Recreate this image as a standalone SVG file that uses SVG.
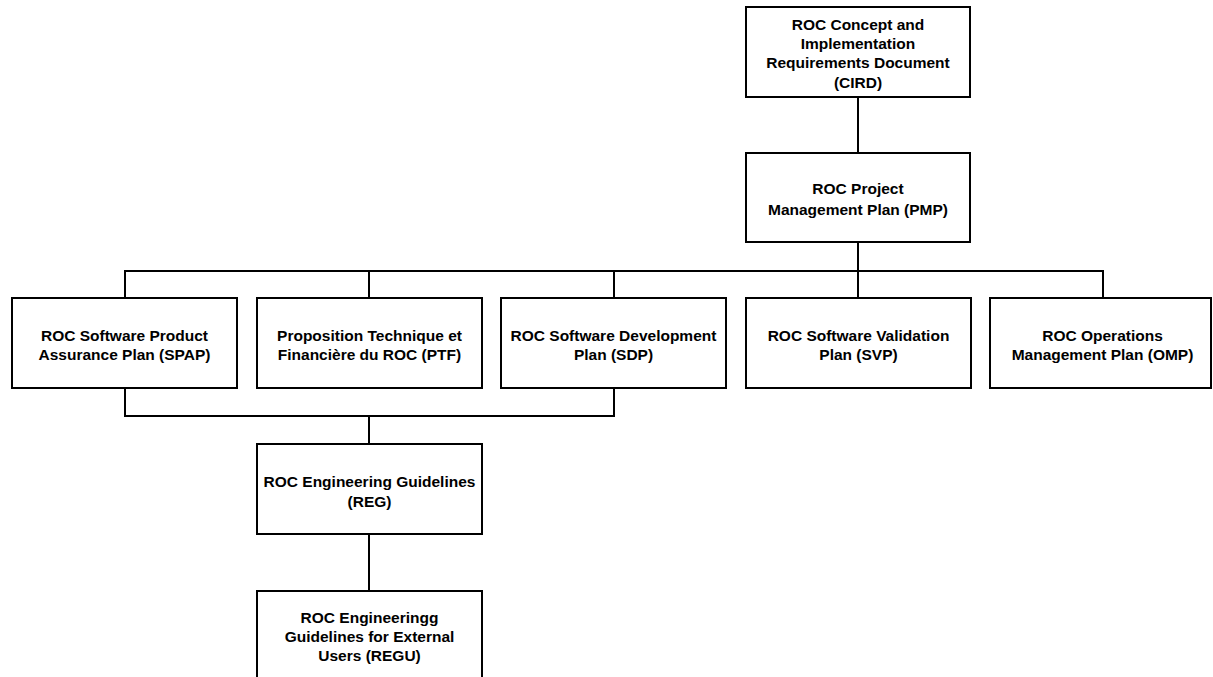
<svg xmlns="http://www.w3.org/2000/svg" width="1213" height="677" viewBox="0 0 1213 677">
  <style>
    .box { fill: #ffffff; stroke: #000000; stroke-width: 2; }
    .wire { fill: none; stroke: #000000; stroke-width: 2; }
    .lbl { font-family: "Liberation Sans", Arial, Helvetica, sans-serif; font-weight: bold; font-size: 15.5px; fill: #000000; text-anchor: middle; }
  </style>
  <rect x="0" y="0" width="1213" height="677" fill="#ffffff"/>

  <!-- connectors -->
  <g id="connectors">
    <line class="wire" x1="858" y1="97" x2="858" y2="153"/>
    <line class="wire" x1="858" y1="242" x2="858" y2="271"/>
    <polyline class="wire" points="125,298 125,271 1103,271 1103,298"/>
    <line class="wire" x1="369" y1="271" x2="369" y2="298"/>
    <line class="wire" x1="614" y1="271" x2="614" y2="298"/>
    <line class="wire" x1="858" y1="271" x2="858" y2="298"/>
    <polyline class="wire" points="125,388 125,416 614,416 614,388"/>
    <line class="wire" x1="369" y1="416" x2="369" y2="444"/>
    <line class="wire" x1="369" y1="534" x2="369" y2="591"/>
  </g>

  <g id="cird">
    <rect class="box" x="746" y="7" width="224" height="90"/>
    <text class="lbl" x="858" y="29.5">ROC Concept and</text>
    <text class="lbl" x="858" y="49">Implementation</text>
    <text class="lbl" x="858" y="68.2">Requirements Document</text>
    <text class="lbl" x="858" y="87.5">(CIRD)</text>
  </g>

  <g id="pmp">
    <rect class="box" x="746" y="153" width="224" height="89"/>
    <text class="lbl" x="858" y="194">ROC Project</text>
    <text class="lbl" x="858" y="214.5">Management Plan (PMP)</text>
  </g>

  <g id="spap">
    <rect class="box" x="12" y="298" width="225" height="90"/>
    <text class="lbl" x="124.5" y="340.5">ROC Software Product</text>
    <text class="lbl" x="124.5" y="359.8">Assurance Plan (SPAP)</text>
  </g>

  <g id="ptf">
    <rect class="box" x="257" y="298" width="225" height="90"/>
    <text class="lbl" x="369.5" y="340.5">Proposition Technique et</text>
    <text class="lbl" x="369.5" y="359.8">Financière du ROC (PTF)</text>
  </g>

  <g id="sdp">
    <rect class="box" x="501" y="298" width="225" height="90"/>
    <text class="lbl" x="613.5" y="340.5">ROC Software Development</text>
    <text class="lbl" x="613.5" y="359.8">Plan (SDP)</text>
  </g>

  <g id="svp">
    <rect class="box" x="746" y="298" width="225" height="90"/>
    <text class="lbl" x="858.5" y="340.5">ROC Software Validation</text>
    <text class="lbl" x="858.5" y="359.8">Plan (SVP)</text>
  </g>

  <g id="omp">
    <rect class="box" x="990" y="298" width="221" height="90"/>
    <text class="lbl" x="1102.5" y="340.5">ROC Operations</text>
    <text class="lbl" x="1102.5" y="359.8">Management Plan (OMP)</text>
  </g>

  <g id="reg">
    <rect class="box" x="257" y="444" width="225" height="90"/>
    <text class="lbl" x="369.5" y="487">ROC Engineering Guidelines</text>
    <text class="lbl" x="369.5" y="506.8">(REG)</text>
  </g>

  <!-- lower edge of this box runs past the bottom of the canvas -->
  <g id="regu">
    <rect class="box" x="257" y="591" width="225" height="91"/>
    <text class="lbl" x="369.5" y="623">ROC Engineeringg</text>
    <text class="lbl" x="369.5" y="642">Guidelines for External</text>
    <text class="lbl" x="369.5" y="661.2">Users (REGU)</text>
  </g>
</svg>
